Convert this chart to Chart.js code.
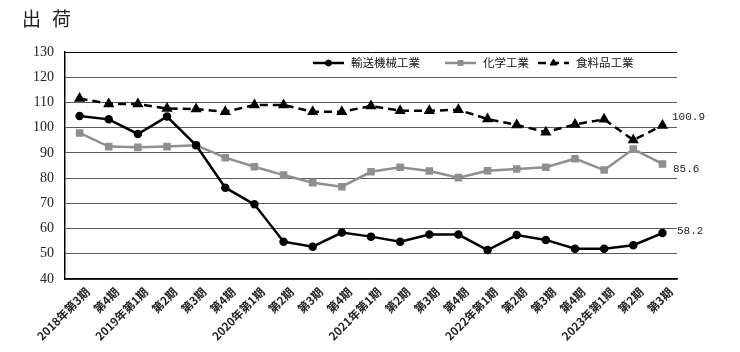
<!DOCTYPE html>
<html lang="ja">
<head>
<meta charset="utf-8">
<script src="https://cdn.jsdelivr.net/npm/chart.js@4.4.1/dist/chart.umd.min.js"></script>
<style>
  html, body { margin: 0; padding: 0; background: #fff; }
  #wrap { position: relative; width: 740px; height: 352px; }
</style>
</head>
<body>
<div id="wrap"><canvas id="c"></canvas></div>
<script>
const TITLE_CHARS = ['出', '荷'];
const LABELS = ['2018年第3期', '第4期', '2019年第1期', '第2期', '第3期', '第4期',
  '2020年第1期', '第2期', '第3期', '第4期', '2021年第1期', '第2期', '第3期', '第4期',
  '2022年第1期', '第2期', '第3期', '第4期', '2023年第1期', '第2期', '第3期'];
const SERIES_NAMES = ['輸送機械工業', '化学工業', '食料品工業'];
const TRANSPORT = [104.6, 103.3, 97.5, 104.4, 93.0, 76.2, 69.6, 54.8, 52.8, 58.4, 56.8,
  54.8, 57.6, 57.6, 51.5, 57.4, 55.5, 52.0, 52.0, 53.4, 58.2];
const CHEMICAL = [97.9, 92.5, 92.2, 92.5, 93.0, 88.1, 84.5, 81.2, 78.2, 76.6, 82.5,
  84.3, 82.8, 80.2, 82.9, 83.6, 84.3, 87.7, 83.2, 91.5, 85.6];
const FOOD = [111.6, 109.4, 109.4, 107.6, 107.4, 106.3, 109.0, 109.0, 106.3, 106.3, 108.6,
  106.7, 106.7, 107.1, 103.4, 101.1, 98.2, 101.3, 103.3, 95.1, 100.9];
const Y_MIN = 40, Y_MAX = 130, Y_STEP = 10;

const INK = '#000000';
const GREY = '#8f8f8f';
const GRID = '#5a5a5a';
const JP = "'Noto Sans CJK JP', 'Noto Sans', sans-serif";

// last-value labels, small offsets per series (px)
const END_DY = [-2, 5, -8];
const END_DX = [4, 0, -1];

const titlePlugin = {
  id: 'titleText',
  afterDraw(chart) {
    const ctx = chart.ctx;
    ctx.save();
    ctx.fillStyle = '#222';
    ctx.font = '19px ' + JP;
    ctx.textBaseline = 'middle';
    ctx.fillText(TITLE_CHARS[0], 22, 19);
    ctx.fillText(TITLE_CHARS[1], 52, 19);
    ctx.restore();
  }
};

const legendPlugin = {
  id: 'innerLegend',
  afterDraw(chart) {
    const ctx = chart.ctx;
    const y = 63;
    const starts = [313, 445, 538];
    ctx.save();
    chart.data.datasets.forEach((ds, i) => {
      const x0 = starts[i], x1 = x0 + 31, mx = (x0 + x1) / 2;
      ctx.strokeStyle = ds.borderColor;
      ctx.lineWidth = 2.5;
      ctx.setLineDash(ds.borderDash || []);
      ctx.beginPath(); ctx.moveTo(x0, y); ctx.lineTo(x1, y); ctx.stroke();
      ctx.setLineDash([]);
      ctx.fillStyle = ds.pointBackgroundColor;
      ctx.strokeStyle = ds.pointBorderColor;
      ctx.lineWidth = 1;
      Chart.helpers.drawPoint(ctx, { pointStyle: ds.pointStyle, radius: ds.pointRadius, borderWidth: 1 }, mx, y);
      ctx.fillStyle = '#111';
      ctx.font = '11.5px ' + JP;
      ctx.textBaseline = 'middle';
      ctx.fillText(ds.label, x1 + 7, y);
    });
    ctx.restore();
  }
};

const endLabelPlugin = {
  id: 'endLabels',
  afterDatasetsDraw(chart) {
    const ctx = chart.ctx;
    const area = chart.chartArea;
    ctx.save();
    ctx.fillStyle = '#222';
    ctx.font = "11px 'Liberation Mono', monospace";
    ctx.textBaseline = 'middle';
    chart.data.datasets.forEach((ds, i) => {
      const v = ds.data[ds.data.length - 1];
      const y = chart.scales.y.getPixelForValue(v) + END_DY[i];
      ctx.fillText(v.toFixed(1), area.right - 4 + END_DX[i], y);
    });
    ctx.restore();
  }
};

new Chart(document.getElementById('c'), {
  type: 'line',
  data: {
    labels: LABELS,
    datasets: [
      {
        label: SERIES_NAMES[0], data: TRANSPORT,
        borderColor: INK, borderWidth: 2.5,
        pointStyle: 'circle', pointRadius: 3,
        pointBackgroundColor: INK, pointBorderColor: INK
      },
      {
        label: SERIES_NAMES[1], data: CHEMICAL,
        borderColor: GREY, borderWidth: 2.5,
        pointStyle: 'rect', pointRadius: 3.6,
        pointBackgroundColor: GREY, pointBorderColor: GREY
      },
      {
        label: SERIES_NAMES[2], data: FOOD,
        borderColor: INK, borderWidth: 2.5, borderDash: [8, 5],
        pointStyle: 'triangle', pointRadius: 4,
        pointBackgroundColor: INK, pointBorderColor: INK
      }
    ]
  },
  options: {
    responsive: true, maintainAspectRatio: false,
    animation: false,
    layout: { padding: { top: 52, right: 63, bottom: 0, left: 0 } },
    elements: { line: { tension: 0 } },
    plugins: {
      legend: { display: false },
      tooltip: { enabled: false }
    },
    scales: {
      x: {
        offset: true,
        grid: { display: false, drawTicks: false },
        border: { display: true, color: INK, width: 1.5 },
        ticks: {
          autoSkip: false, maxRotation: 45, minRotation: 45,
          padding: 6, labelOffset: 8,
          color: '#222', font: { family: JP, size: 11.5, weight: '600' }
        },
        afterFit: s => { s.height = 73; }
      },
      y: {
        min: Y_MIN, max: Y_MAX,
        grid: {
          drawTicks: false,
          color: c => (c.tick && c.tick.value === Y_MAX) ? INK : GRID,
          lineWidth: 1
        },
        border: { display: true, color: INK, width: 1.5 },
        ticks: {
          stepSize: Y_STEP, padding: 11,
          color: '#222', font: { family: "'Liberation Serif', serif", size: 14 }
        },
        afterFit: s => { s.width = 65; }
      }
    }
  },
  plugins: [titlePlugin, legendPlugin, endLabelPlugin]
});
</script>
</body>
</html>
